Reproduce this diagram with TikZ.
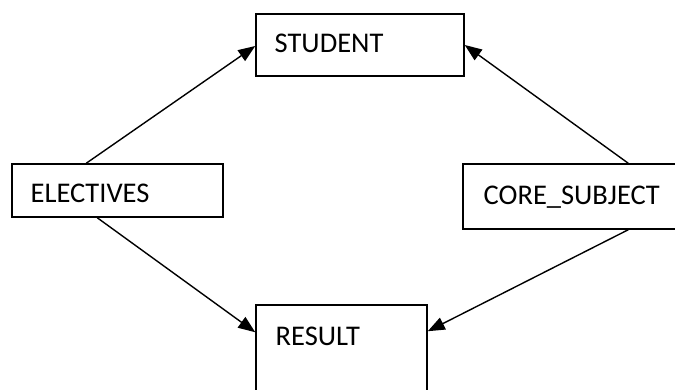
\documentclass[tikz,border=0pt]{standalone}
\usepackage{fontspec}
\setmainfont{Carlito}
\usetikzlibrary{arrows.meta}
\tikzset{
  boxnode/.style={draw=black, line width=1.5pt, rectangle, inner sep=0pt},
  lbl/.style={anchor=base west, inner sep=0pt, font=\fontsize{28.5}{34}\selectfont},
  arr/.style={line width=1.4pt, -{Triangle[length=17pt,width=13pt]}}
}
\begin{document}
\begin{tikzpicture}[x=1pt,y=-1pt]
\useasboundingbox (0,0) rectangle (675,390);
\clip (0,0) rectangle (675,390);
\node[boxnode, minimum width=208pt, minimum height=62pt] (stud) at (360,45) {};
\node[boxnode, minimum width=211pt, minimum height=53pt] (elec) at (117.5,190.5) {};
\node[boxnode, minimum width=227pt, minimum height=65pt] (core) at (576.5,196.5) {};
\node[boxnode, minimum width=171pt, minimum height=105pt] (res) at (341.5,357.5) {};
\node[lbl] (tstud) at (274.5,53) {STUDENT};
\node[lbl] (telec) at (30.5,203) {ELECTIVES};
\node[lbl] (tcore) at (483.5,205) {CORE\_SUBJECT};
\node[lbl] (tres) at (275.5,345) {RESULT};
\draw[arr] ([xshift=75pt]elec.north west) -- ([yshift=-1pt]stud.west);
\draw[arr] ([xshift=166pt]core.north west) -- (stud.east);
\draw[arr] ([xshift=86pt]elec.south west) -- ([yshift=-28pt]res.north west);
\draw[arr] ([xshift=166pt]core.south west) -- ([yshift=-27pt]res.north east);
\end{tikzpicture}
\end{document}
